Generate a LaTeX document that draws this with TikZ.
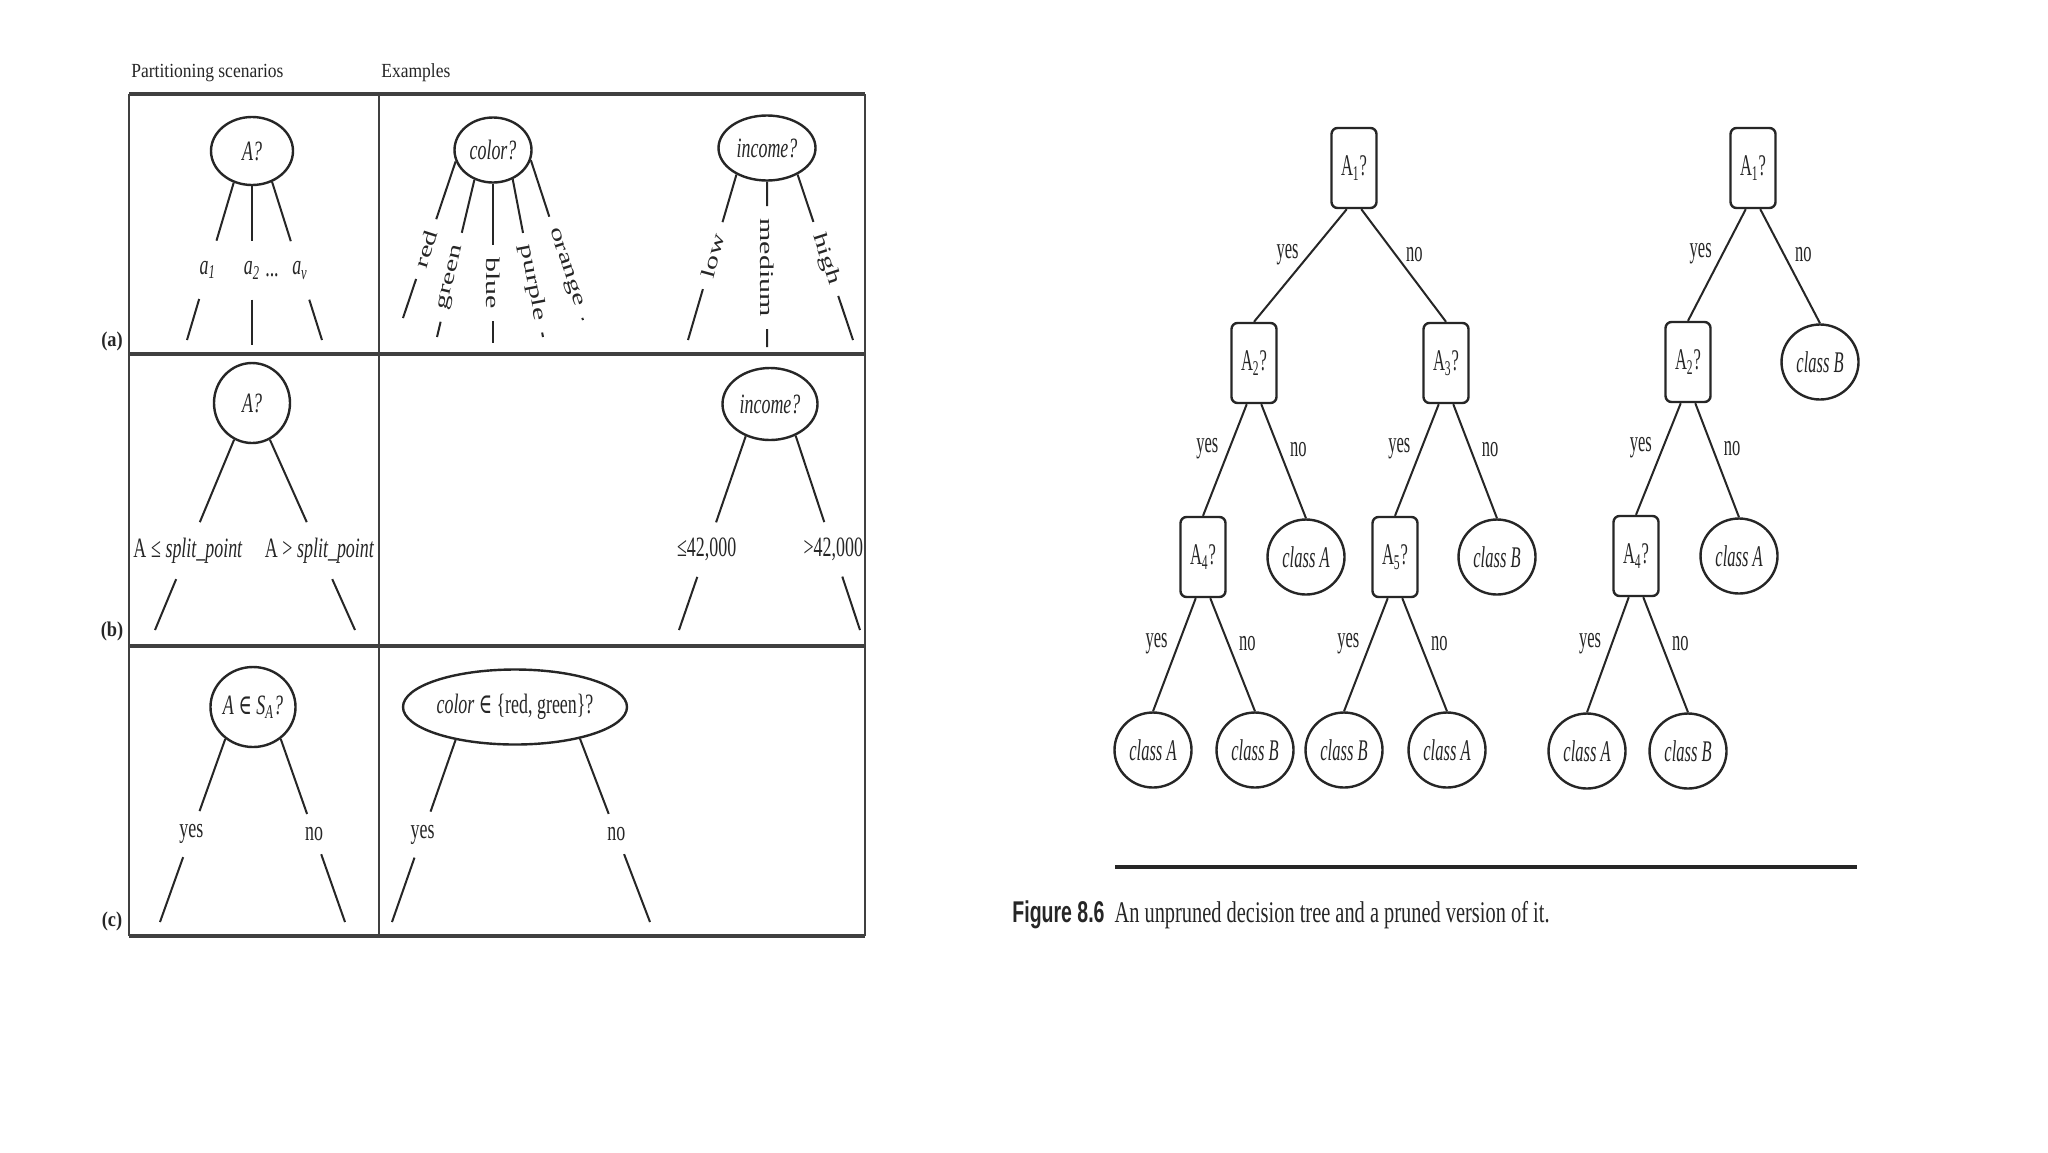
\documentclass[tikz,border=0pt]{standalone}
\usepackage{fontspec}
\setmainfont{Liberation Serif}
\newfontfamily\tabf[FakeStretch=0.64]{Liberation Serif}
\newfontfamily\hdrf[FakeStretch=0.875]{Liberation Serif}
\newfontfamily\treef[FakeStretch=0.55]{Liberation Serif}
\newfontfamily\capf[FakeStretch=0.68]{Liberation Serif}
\newfontfamily\figf[FakeStretch=0.65]{Liberation Sans}
\newfontfamily\symf[FakeStretch=0.64]{DejaVu Serif}
\usetikzlibrary{shapes.geometric,calc}
\definecolor{ink}{HTML}{262626}
\definecolor{framec}{HTML}{404040}
\newcommand\tabsz{\fontsize{14pt}{16pt}\selectfont}
\newcommand\treesz{\fontsize{15pt}{17pt}\selectfont}
\newcommand\squash[1]{\scalebox{1}[0.65]{#1}}
\newcommand\elt{{\symf ∈}}
\tikzset{
  ln/.style={draw=ink, line width=1pt},
  tell/.style={ellipse, draw=ink, line width=1.2pt, inner sep=0pt, text=ink, font=\tabf\tabsz\itshape},
  blbl/.style={inner xsep=2pt, inner ysep=10pt, text=ink, font=\tabf\tabsz},
  rlbl/.style={inner xsep=6pt, inner ysep=1pt, text=ink, font=\treesz},
  hlbl/.style={inner xsep=2pt, inner ysep=7.7pt, text=ink, font=\tabf\tabsz},
  ylbl/.style={inner xsep=2pt, inner ysep=6.5pt, text=ink, font=\tabf\tabsz},
  qbox/.style={rectangle, rounded corners=3pt, draw=ink, line width=1.2pt, minimum width=22.5pt, minimum height=40pt, inner sep=0pt, text=ink, font=\treef\treesz},
  leaf/.style={ellipse, draw=ink, line width=1.2pt, minimum width=38.5pt, minimum height=37.5pt, inner sep=0pt, text=ink, font=\treef\treesz\itshape},
  yl/.style={pos=0.4, left=3pt, inner sep=2pt, text=ink, font=\treef\treesz},
  nl/.style={pos=0.4, right=3pt, inner sep=2pt, text=ink, font=\treef\treesz},
  rowlab/.style={inner sep=1pt, text=ink, font=\hdrf\fontsize{10.5pt}{12pt}\selectfont\bfseries},
  hdr/.style={inner sep=0pt, anchor=base west, text=ink, font=\hdrf\fontsize{10pt}{12pt}\selectfont},
}
\begin{document}
\begin{tikzpicture}[x=0.5pt,y=-0.5pt]
\fill[white] (0,0) rectangle (2048,1152);
\useasboundingbox (0,0) rectangle (2048,1152);

% ---------------- left table frame ----------------
\draw[framec, line width=1.6pt] (129,94) -- (865,94);
\draw[framec, line width=1.6pt] (129,354) -- (865,354);
\draw[framec, line width=1.6pt] (129,646) -- (865,646);
\draw[framec, line width=1.6pt] (129,936) -- (865,936);
\draw[framec, line width=1pt] (129,94) -- (129,936);
\draw[framec, line width=1pt] (379,94) -- (379,936);
\draw[framec, line width=1.3pt] (865,94) -- (865,936);

\node[hdr] (h1) at (131,77) {Partitioning scenarios};
\node[hdr] (h2) at (381,77) {Examples};
\node[rowlab] (ra) at (112,341) {(a)};
\node[rowlab] (rb) at (112,631) {(b)};
\node[rowlab] (rc) at (112,921) {(c)};

% ---------------- row (a), scenario ----------------
\node[tell, minimum width=41pt, minimum height=34pt] (aA) at (252,151) {A?};
\coordinate (a1e) at (187,340);
\coordinate (a2e) at (252,345);
\coordinate (ave) at (322,340);
\node[blbl] (a1) at ($(aA.240)!0.554!(a1e)$) {\itshape a\textsubscript{1}};
\node[blbl] (a2) at ($(aA.270)!0.53!(a2e)$) {\itshape a\textsubscript{2}};
\node[blbl] (av) at ($(aA.303)!0.56!(ave)$) {\itshape a\textsubscript{v}};
\node[inner sep=0pt, text=ink, font=\tabf\tabsz] (adots) at (272,275) {...};
\draw[ln] (aA.240) -- (a1) -- (a1e);
\draw[ln] (aA.270) -- (a2) -- (a2e);
\draw[ln] (aA.303) -- (av) -- (ave);

% ---------------- row (a), color example ----------------
\node[tell, minimum width=38.5pt, minimum height=32.5pt] (col) at (493,150) {color?};
\coordinate (cre) at (403,318);
\coordinate (cge) at (437,337);
\coordinate (cbe) at (493,343);
\coordinate (cpe) at (543,337);
\coordinate (coe) at (583,320);
\node[rlbl, rotate=72.2] (cr) at ($(col.197)!0.56!(cre)$) {\squash{red}};
\node[rlbl, rotate=76.9] (cg) at ($(col.238)!0.62!(cge)$) {\squash{green}};
\node[rlbl, rotate=-90] (cb) at ($(col.270)!0.625!(cbe)$) {\squash{blue}};
\node[rlbl, rotate=-79.2] (cp) at ($(col.304)!0.656!(cpe)$) {\squash{purple}};
\node[rlbl, rotate=-71.7] (co) at ($(col.345)!0.67!(coe)$) {\squash{orange}};
\draw[ln] (col.197) -- (cr) -- (cre);
\draw[ln] (col.238) -- (cg) -- (cge);
\draw[ln] (col.270) -- (cb) -- (cbe);
\draw[ln] (col.304) -- (cp) -- (cpe);
\draw[ln] (col.345) -- (co) -- (coe);

% ---------------- row (a), income example ----------------
\node[tell, minimum width=48.5pt, minimum height=32.5pt] (inc) at (767,148) {income?};
\coordinate (ile) at (688,340);
\coordinate (ime) at (767,347);
\coordinate (ihe) at (853,340);
\node[rlbl, rotate=74.5] (il) at ($(inc.221)!0.49!(ile)$) {\squash{low}};
\node[rlbl, rotate=-90] (im) at ($(inc.270)!0.52!(ime)$) {\squash{medium}};
\node[rlbl, rotate=-72] (ih) at ($(inc.319)!0.51!(ihe)$) {\squash{high}};
\draw[ln] (inc.221) -- (il) -- (ile);
\draw[ln] (inc.270) -- (im) -- (ime);
\draw[ln] (inc.319) -- (ih) -- (ihe);

% ---------------- row (b) ----------------
\node[tell, minimum width=38pt, minimum height=40pt] (bA) at (252,403) {A?};
\coordinate (ble) at (155,630);
\coordinate (bre) at (355,630);
\node[hlbl] (bl) at ($(bA.244)!0.583!(ble)$) {A\,≤\,\textit{split\_point}};
\node[hlbl] (br) at ($(bA.296)!0.583!(bre)$) {A\,>\,\textit{split\_point}};
\draw[ln] (bA.244) -- (bl) -- (ble);
\draw[ln] (bA.296) -- (br) -- (bre);

\node[tell, minimum width=47.5pt, minimum height=36pt] (binc) at (770,404) {income?};
\coordinate (bile) at (679,630);
\coordinate (bire) at (860,630);
\node[hlbl] (bil) at ($(binc.233)!0.585!(bile)$) {≤42,000};
\node[hlbl] (bir) at ($(binc.309)!0.585!(bire)$) {>42,000};
\draw[ln] (binc.233) -- (bil) -- (bile);
\draw[ln] (binc.309) -- (bir) -- (bire);

% ---------------- row (c) ----------------
\node[tell, minimum width=40pt, minimum height=40pt] (cA) at (253,707) {A\,\elt\,S\textsubscript{A}?};
\coordinate (cye) at (160,922);
\coordinate (cne) at (345,922);
\node[ylbl] (cy) at ($(cA.229)!0.52!(cye)$) {yes};
\node[ylbl] (cn) at ($(cA.311)!0.52!(cne)$) {no};
\draw[ln] (cA.229) -- (cy) -- (cye);
\draw[ln] (cA.311) -- (cn) -- (cne);

\node[tell, minimum width=112pt, minimum height=37.5pt] (cset) at (515,707) {color \elt\ \upshape\{red, green\}?};
\coordinate (csye) at (392,922);
\coordinate (csne) at (650,922);
\node[ylbl] (csy) at ($(cset.209.6)!0.52!(csye)$) {yes};
\node[ylbl] (csn) at ($(cset.334.8)!0.52!(csne)$) {no};
\draw[ln] (cset.209.6) -- (csy) -- (csye);
\draw[ln] (cset.334.8) -- (csn) -- (csne);

% ---------------- unpruned tree ----------------
\node[qbox] (u1) at (1354,168) {A\textsubscript{1}?};
\node[qbox] (u2) at (1254,363) {A\textsubscript{2}?};
\node[qbox] (u3) at (1446,363) {A\textsubscript{3}?};
\node[qbox] (u4) at (1203,557) {A\textsubscript{4}?};
\node[leaf] (uca) at (1306,557) {class A};
\node[qbox] (u5) at (1395,557) {A\textsubscript{5}?};
\node[leaf] (ucb) at (1497,557) {class B};
\node[leaf] (l1) at (1153,750) {class A};
\node[leaf] (l2) at (1255,750) {class B};
\node[leaf] (l3) at (1344,750) {class B};
\node[leaf] (l4) at (1447,750) {class A};
\draw[ln] (u1.260) -- node[yl] (ey1) {yes} (u2.north);
\draw[ln] (u1.280) -- node[nl] (en1) {no} (u3.north);
\draw[ln] (u2.260) -- node[yl] (ey2) {yes} (u4.north);
\draw[ln] (u2.280) -- node[nl] (en2) {no} (uca.north);
\draw[ln] (u3.260) -- node[yl] (ey3) {yes} (u5.north);
\draw[ln] (u3.280) -- node[nl] (en3) {no} (ucb.north);
\draw[ln] (u4.260) -- node[yl] (ey4) {yes} (l1.north);
\draw[ln] (u4.280) -- node[nl] (en4) {no} (l2.north);
\draw[ln] (u5.260) -- node[yl] (ey5) {yes} (l3.north);
\draw[ln] (u5.280) -- node[nl] (en5) {no} (l4.north);

% ---------------- pruned tree ----------------
\node[qbox] (p1) at (1753,168) {A\textsubscript{1}?};
\node[qbox] (p2) at (1688,362) {A\textsubscript{2}?};
\node[leaf] (pcb) at (1820,362) {class B};
\node[qbox] (p4) at (1636,556) {A\textsubscript{4}?};
\node[leaf] (pca) at (1739,556) {class A};
\node[leaf] (q1) at (1587,751) {class A};
\node[leaf] (q2) at (1688,751) {class B};
\draw[ln] (p1.260) -- node[yl] (fy1) {yes} (p2.north);
\draw[ln] (p1.280) -- node[nl] (fn1) {no} (pcb.north);
\draw[ln] (p2.260) -- node[yl] (fy2) {yes} (p4.north);
\draw[ln] (p2.280) -- node[nl] (fn2) {no} (pca.north);
\draw[ln] (p4.260) -- node[yl] (fy3) {yes} (q1.north);
\draw[ln] (p4.280) -- node[nl] (fn3) {no} (q2.north);

% ---------------- rule and caption ----------------
\coordinate (rl) at (1115,867);
\coordinate (rr) at (1857,867);
\draw[ink, line width=1.6pt] (rl) -- (rr);
\node[anchor=base west, inner sep=0pt, text=ink] (cap) at (1012,922)
  {{\figf\fontsize{15pt}{17pt}\selectfont\bfseries Figure 8.6}\hspace{5pt}{\capf\fontsize{15pt}{17pt}\selectfont An unpruned decision tree and a pruned version of it.}};
\end{tikzpicture}
\end{document}
